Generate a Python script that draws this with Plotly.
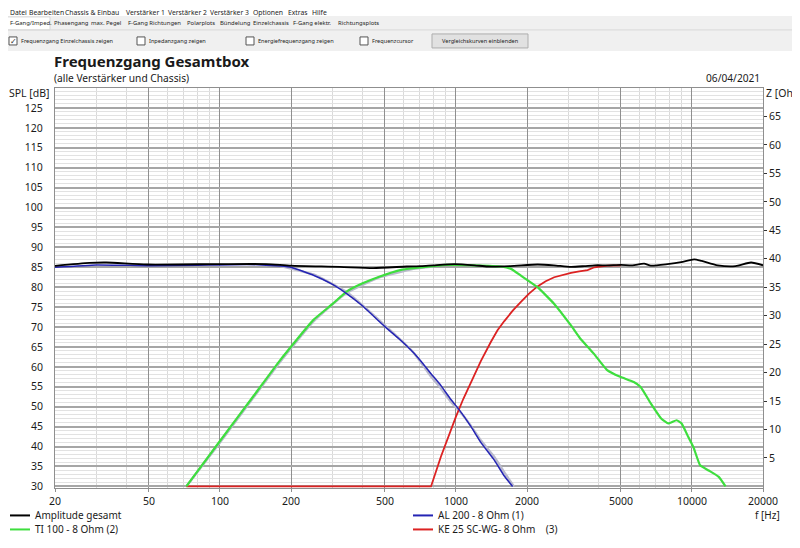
import plotly.graph_objects as go

# ---------------- data ----------------
amp_f = [20, 28, 33, 49, 100, 157, 200, 322, 446, 618, 711, 800, 985, 1200, 1362, 1700,
         2216, 2600, 3071, 3500, 3860, 4400, 5000, 5600, 6266, 6700, 7873, 9000, 10220,
         11000, 12860, 15300, 17800, 20000]
amp_db = [85.35, 86.1, 86.2, 85.7, 85.8, 85.8, 85.4, 85.1, 84.8, 85.2, 85.3, 85.5, 85.8,
          85.5, 85.2, 85.3, 85.7, 85.5, 85.1, 85.3, 85.5, 85.5, 85.6, 85.5, 85.9, 85.4,
          85.8, 86.3, 87.0, 86.6, 85.5, 85.3, 86.2, 85.5]

al200_f = [20, 30, 50, 80, 100, 130, 150, 180, 200, 249, 300, 344, 400, 500, 580, 660, 711,
           784, 864, 952, 1033, 1158, 1276, 1454, 1603, 1738]
al200_db = [85.0, 85.6, 85.4, 85.5, 85.6, 85.7, 85.6, 85.3, 85.0, 83.0, 80.7, 78.4, 75.4,
            70.1, 66.8, 63.6, 61.4, 58.3, 55.3, 51.8, 49.2, 45.0, 41.0, 36.6, 32.6, 30.0]

ti100_f = [72, 100, 138, 180, 249, 300, 344, 400, 476, 580, 660, 800, 910, 1200, 1551, 1711,
           1885, 2216, 2608, 3071, 3354, 3829, 4371, 4966, 5669, 6049, 6700, 7425, 7949,
           8611, 9039, 9650, 10140, 10830, 11770, 12990, 13880]
ti100_db = [30.0, 41.4, 52.5, 61.7, 71.8, 75.8, 78.9, 80.9, 82.7, 84.3, 84.8, 85.3, 85.6,
            85.5, 85.2, 84.6, 82.9, 80.0, 75.8, 70.4, 67.2, 63.4, 59.2, 57.5, 56.2, 55.0,
            50.8, 47.0, 45.8, 46.6, 45.8, 42.4, 39.9, 35.3, 34.0, 32.4, 30.0]

ke25_f = [72, 784, 864, 930, 1000, 1075, 1158, 1276, 1407, 1500, 1603, 1740, 1885, 2040,
          2216, 2400, 2608, 2830, 3071, 3330, 3613, 3860, 4390, 4995]
ke25_db = [30.0, 30.0, 37.5, 42.6, 47.5, 52.0, 56.0, 61.5, 66.3, 69.2, 71.5, 74.1, 76.3,
           78.4, 80.2, 81.5, 82.5, 83.1, 83.6, 84.0, 84.3, 85.0, 85.4, 85.5]

# light grey comparison (target) curves drawn under the drivers
tgt_hp_f = [72, 100, 180, 249, 344, 476, 660, 800]
tgt_hp_db = [30.0, 41.0, 61.3, 71.4, 78.6, 82.5, 84.6, 85.2]
tgt_lp_f = [180, 249, 344, 500, 660, 784, 864, 952, 1033, 1158, 1276, 1454, 1603, 1760]
tgt_lp_db = [85.3, 83.2, 78.8, 70.4, 63.6, 57.6, 54.6, 51.2, 49.0, 45.2, 41.5, 37.4, 33.5, 30.0]

x_ticks = [20, 50, 100, 200, 500, 1000, 2000, 5000, 10000, 20000]
x_minor = [30, 40, 60, 70, 80, 90, 300, 400, 600, 700, 800, 900, 3000, 4000, 6000, 7000,
           8000, 9000]
spl_ticks = list(range(30, 130, 5))
z_ticks = list(range(5, 70, 5))

names = ["Amplitude gesamt", "AL 200 - 8 Ohm (1)", "TI 100 - 8 Ohm (2)",
         "KE 25 SC-WG- 8 Ohm    (3)"]
colors = ["#000000", "#2424b4", "#3ede3e", "#dc2222"]

menu_items = [("Datei", 8), ("Bearbeiten", 27), ("Chassis & Einbau", 63), ("Verstärker 1", 124),
              ("Verstärker 2", 166), ("Verstärker 3", 208), ("Optionen", 251), ("Extras", 286),
              ("Hilfe", 310)]
tab_items = [("F-Gang/Imped.", 8), ("Phasengang", 52), ("max. Pegel", 89),
             ("F-Gang Richtungen", 126), ("Polarplots", 185), ("Bündelung", 218),
             ("Einzelchassis", 251), ("F-Gang elektr.", 291), ("Richtungsplots", 336)]
check_items = [("Frequenzgang Einzelchassis zeigen", 9, True), ("Inpedanzgang zeigen", 137, False),
               ("Energiefrequenzgang zeigen", 246, False), ("Frequenzcursor", 360, False)]

# ---------------- geometry (page pixels; the page body adds an 8px offset) ----------------
OFF = 8
W, H = 800 - OFF, 548 - OFF
SPL_LO = 29.6                      # a little room so the 30 dB floor line stays visible
L, R, T = 55, 763, 88
B = 486 + (30 - SPL_LO) * 3.98     # plot bottom in page pixels
Z_LO = -(30 - SPL_LO) * 3.98 / 5.686
def px(x):
    return (x - L) / (R - L)
def py(y):
    return (B - y) / (B - T)

fig = go.Figure()

fig.add_trace(go.Scatter(x=tgt_hp_f, y=tgt_hp_db, mode="lines", showlegend=False,
                         line=dict(color="#b9b9cc", width=2.4, shape="spline", smoothing=0.4),
                         hoverinfo="skip"))
fig.add_trace(go.Scatter(x=tgt_lp_f, y=tgt_lp_db, mode="lines", showlegend=False,
                         line=dict(color="#b9b9cc", width=2.4, shape="spline", smoothing=0.4),
                         hoverinfo="skip"))
fig.add_trace(go.Scatter(x=ke25_f, y=ke25_db, mode="lines", name=names[3], showlegend=False,
                         line=dict(color=colors[3], width=1.8)))
fig.add_trace(go.Scatter(x=ti100_f, y=ti100_db, mode="lines", name=names[2], showlegend=False,
                         line=dict(color=colors[2], width=2.2, shape="spline", smoothing=0.4)))
fig.add_trace(go.Scatter(x=al200_f, y=al200_db, mode="lines", name=names[1], showlegend=False,
                         line=dict(color=colors[1], width=1.5, shape="spline", smoothing=0.4)))
fig.add_trace(go.Scatter(x=amp_f, y=amp_db, mode="lines", name=names[0], showlegend=False,
                         line=dict(color=colors[0], width=1.8, shape="spline", smoothing=0.6)))
# keep the right (impedance) axis alive with an empty trace
fig.add_trace(go.Scatter(x=[], y=[], yaxis="y2", showlegend=False))

chart_font = "Noto Sans, DejaVu Sans, sans-serif"
ui_font = "Noto Sans, sans-serif"

fig.update_layout(
    width=W, height=H,
    margin=dict(l=L - OFF, r=800 - R, t=T - OFF, b=548 - B, pad=0),
    paper_bgcolor="white", plot_bgcolor="white",
    font=dict(family=chart_font, size=10.5, color="#1a1a1a"),
    showlegend=False,
    xaxis=dict(type="log", range=[1.30103, 4.30103], tickvals=x_ticks,
               ticktext=[str(v) for v in x_ticks], showgrid=True, gridcolor="#8f8f8f",
               gridwidth=1, showline=True, linecolor="#8f8f8f", linewidth=1, mirror=True,
               ticks="outside", ticklen=3, tickcolor="#8f8f8f", zeroline=False,
               minor=dict(tickvals=x_minor, showgrid=True, gridcolor="#dadada", gridwidth=1),
               tickfont=dict(size=10.5)),
    yaxis=dict(range=[SPL_LO, 130], tickvals=spl_ticks, ticktext=[str(v) for v in spl_ticks],
               showgrid=True, gridcolor="#a6a6a6", gridwidth=2, showline=True,
               linecolor="#8f8f8f", linewidth=1, mirror=True, zeroline=False, ticks="",
               ticklabelstandoff=9,
               minor=dict(tickvals=[v for v in range(31, 130) if v % 5], showgrid=True,
                          gridcolor="#e2e2e2", gridwidth=1),
               tickfont=dict(size=10.5)),
    yaxis2=dict(range=[Z_LO, 70], overlaying="y", side="right", tickvals=z_ticks,
                ticktext=[str(v) for v in z_ticks], showgrid=False, zeroline=False,
                ticks="outside", ticklen=3, tickcolor="#333333", showline=False,
                tickfont=dict(size=10.5)),
)

shapes = []
ann = []

def text(t, x, y, size=10.5, xanchor="left", bold=False, family=chart_font, color="#1a1a1a"):
    ann.append(dict(text=("<b>%s</b>" % t) if bold else t, xref="paper", yref="paper",
                    x=px(x), y=py(y), xanchor=xanchor, yanchor="middle", showarrow=False,
                    font=dict(size=size, family=family, color=color)))

def rect(x0, y0, x1, y1, fill, line=None, lwid=1):
    shapes.append(dict(type="rect", xref="paper", yref="paper", x0=px(x0), x1=px(x1),
                       y0=py(y1), y1=py(y0), fillcolor=fill,
                       line=dict(color=line or fill, width=lwid if line else 0), layer="below"))

# ---- window UI strip ----
rect(0, 16, 800, 30, "#f0f0f0")
rect(0, 30, 800, 51, "#f0f0f0")
rect(6, 17, 50, 30, "#ffffff", "#d8d8d8")
shapes.append(dict(type="line", xref="paper", yref="paper", x0=px(0), x1=px(800),
                   y0=py(30), y1=py(30), line=dict(color="#d8d8d8", width=1)))
for t, x in menu_items:
    text(t, x, 12.5, size=6.8, family=ui_font, color="#222222")
for t, x in tab_items:
    text(t, x, 23, size=5.9, family=ui_font, color="#222222")
for t, x, chk in check_items:
    rect(x, 37, x + 8, 45, "#ffffff", "#555555")
    if chk:
        ann.append(dict(text="✓", xref="paper", yref="paper", x=px(x + 4), y=py(41),
                        xanchor="center", yanchor="middle", showarrow=False,
                        font=dict(size=8, color="#333333")))
    text(t, x + 10, 41, size=5.6, family=ui_font, color="#222222")
rect(432, 34, 528, 48, "#e1e1e1", "#adadad")
text("Vergleichskurven einblenden", 480, 41, size=5.6, xanchor="center", family=ui_font,
     color="#222222")

# ---- chart titles ----
text("Frequenzgang Gesamtbox", 52, 61, size=15, bold=True)
text("(alle Verstärker und Chassis)", 52, 78, size=10.2)
text("06/04/2021", 762, 78, size=10.2, xanchor="right")
text("SPL [dB]", 52, 93, size=10.5, xanchor="right")
text("Z [Oh", 764, 93, size=10.5)
text("f [Hz]", 768, 515, size=10, xanchor="center")

# ---- legend (two columns) ----
legend_pos = [(10, 515), (413, 515), (10, 529), (413, 529)]
for (lx, ly), n, c in zip(legend_pos, names, colors):
    shapes.append(dict(type="line", xref="paper", yref="paper", x0=px(lx), x1=px(lx + 20),
                       y0=py(ly), y1=py(ly), line=dict(color=c, width=2)))
    text(n, lx + 23, ly, size=10)

fig.update_layout(shapes=shapes, annotations=ann)
fig.write_html("out.html")
